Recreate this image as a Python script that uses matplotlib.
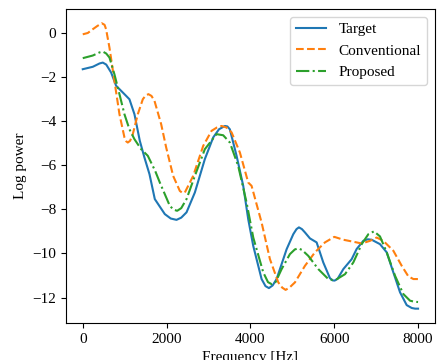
import matplotlib
matplotlib.use("Agg")
import matplotlib.pyplot as plt

plt.rcParams['font.family'] = ['Liberation Serif', 'DejaVu Serif']
plt.rcParams['font.size'] = 11

# values
target_f = [0, 240, 400, 478, 560, 677, 796, 995, 1114, 1234, 1361, 1472, 1592, 1719,
            1958, 2100, 2237, 2350, 2476, 2675, 2913, 3112, 3250, 3391, 3450, 3510,
            3670, 3829, 3948, 4068, 4267, 4360, 4442, 4530, 4625, 4864, 5023, 5100,
            5158, 5230, 5302, 5421, 5580, 5739, 5898, 5960, 6010, 6080, 6217, 6416,
            6535, 6694, 6800, 6893, 7092, 7252, 7411, 7570, 7729, 7849, 7930, 8000]
target_p = [-1.66, -1.55, -1.4, -1.36, -1.45, -1.81, -2.41, -2.79, -3.02, -3.7, -4.9,
            -5.66, -6.41, -7.54, -8.22, -8.42, -8.48, -8.38, -8.14, -7.24, -5.73,
            -4.75, -4.38, -4.23, -4.25, -4.38, -5.58, -6.94, -8.45, -9.66, -11.16,
            -11.48, -11.57, -11.45, -11.16, -9.81, -9.13, -8.9, -8.82, -8.9, -9.05,
            -9.32, -9.5, -10.41, -11.12, -11.22, -11.23, -11.15, -10.71, -10.26,
            -9.8, -9.43, -9.36, -9.38, -9.58, -9.95, -10.86, -11.76, -12.34, -12.47,
            -12.5, -12.5]

conv_f = [0, 120, 239, 350, 454, 520, 557, 637, 756, 876, 995, 1040, 1075, 1130, 1194,
          1313, 1433, 1500, 1568, 1640, 1711, 1871, 1990, 2157, 2316, 2380, 2436,
          2635, 2874, 3073, 3200, 3312, 3430, 3551, 3749, 3948, 4028, 4267, 4466,
          4665, 4760, 4840, 4930, 5063, 5302, 5540, 5779, 6002, 6217, 6455, 6655,
          6854, 7013, 7172, 7411, 7610, 7769, 7889, 8000]
conv_p = [-0.08, -0.02, 0.15, 0.3, 0.42, 0.35, 0.15, -0.68, -2.19, -3.7, -4.75, -4.93,
          -4.98, -4.9, -4.6, -3.7, -3.02, -2.85, -2.79, -2.87, -3.09, -4.15, -5.2,
          -6.49, -7.17, -7.26, -7.24, -6.49, -5.13, -4.45, -4.3, -4.23, -4.3, -4.52,
          -5.43, -6.79, -6.94, -8.6, -10.26, -11.31, -11.55, -11.65, -11.55, -11.31,
          -10.56, -9.95, -9.5, -9.25, -9.38, -9.47, -9.55, -9.43, -9.28, -9.43,
          -9.88, -10.56, -11.04, -11.16, -11.16]

prop_f = [0, 240, 400, 478, 560, 637, 756, 876, 995, 1114, 1234, 1393, 1552, 1727,
          1839, 2078, 2170, 2253, 2350, 2476, 2675, 2913, 3193, 3351, 3510, 3709,
          3908, 4068, 4307, 4420, 4506, 4600, 4745, 4943, 5060, 5142, 5230, 5381,
          5620, 5859, 5960, 6058, 6257, 6455, 6655, 6814, 6949, 7092, 7252, 7451,
          7649, 7809, 7920, 8000]
prop_p = [-1.16, -1.04, -0.9, -0.86, -0.95, -1.13, -1.89, -2.79, -3.7, -4.38, -4.83,
          -5.28, -5.58, -6.26, -6.79, -7.85, -8.02, -8.07, -7.95, -7.54, -6.49,
          -5.28, -4.6, -4.65, -4.98, -6.04, -7.69, -9.28, -10.86, -11.3, -11.39,
          -11.3, -10.71, -10.03, -9.82, -9.77, -9.84, -10.11, -10.71, -11.16, -11.2,
          -11.17, -10.94, -10.41, -9.58, -9.13, -9.0, -9.23, -9.95, -11.01, -11.84,
          -12.14, -12.19, -12.2]

fig = plt.figure(figsize=(4.37, 3.6), dpi=100)
ax = fig.add_axes([0.151, 0.103, 0.844, 0.872])
ax.plot(target_f, target_p, '-', label='Target')
ax.plot(conv_f, conv_p, '--', label='Conventional')
ax.plot(prop_f, prop_p, '-.', label='Proposed')
ax.set_xlabel('Frequency [Hz]')
ax.set_ylabel('Log power')
ax.set_xticks([0, 2000, 4000, 6000, 8000])
ax.set_yticks([0, -2, -4, -6, -8, -10, -12])
ax.legend(loc='upper right')
fig.savefig('out.png')
